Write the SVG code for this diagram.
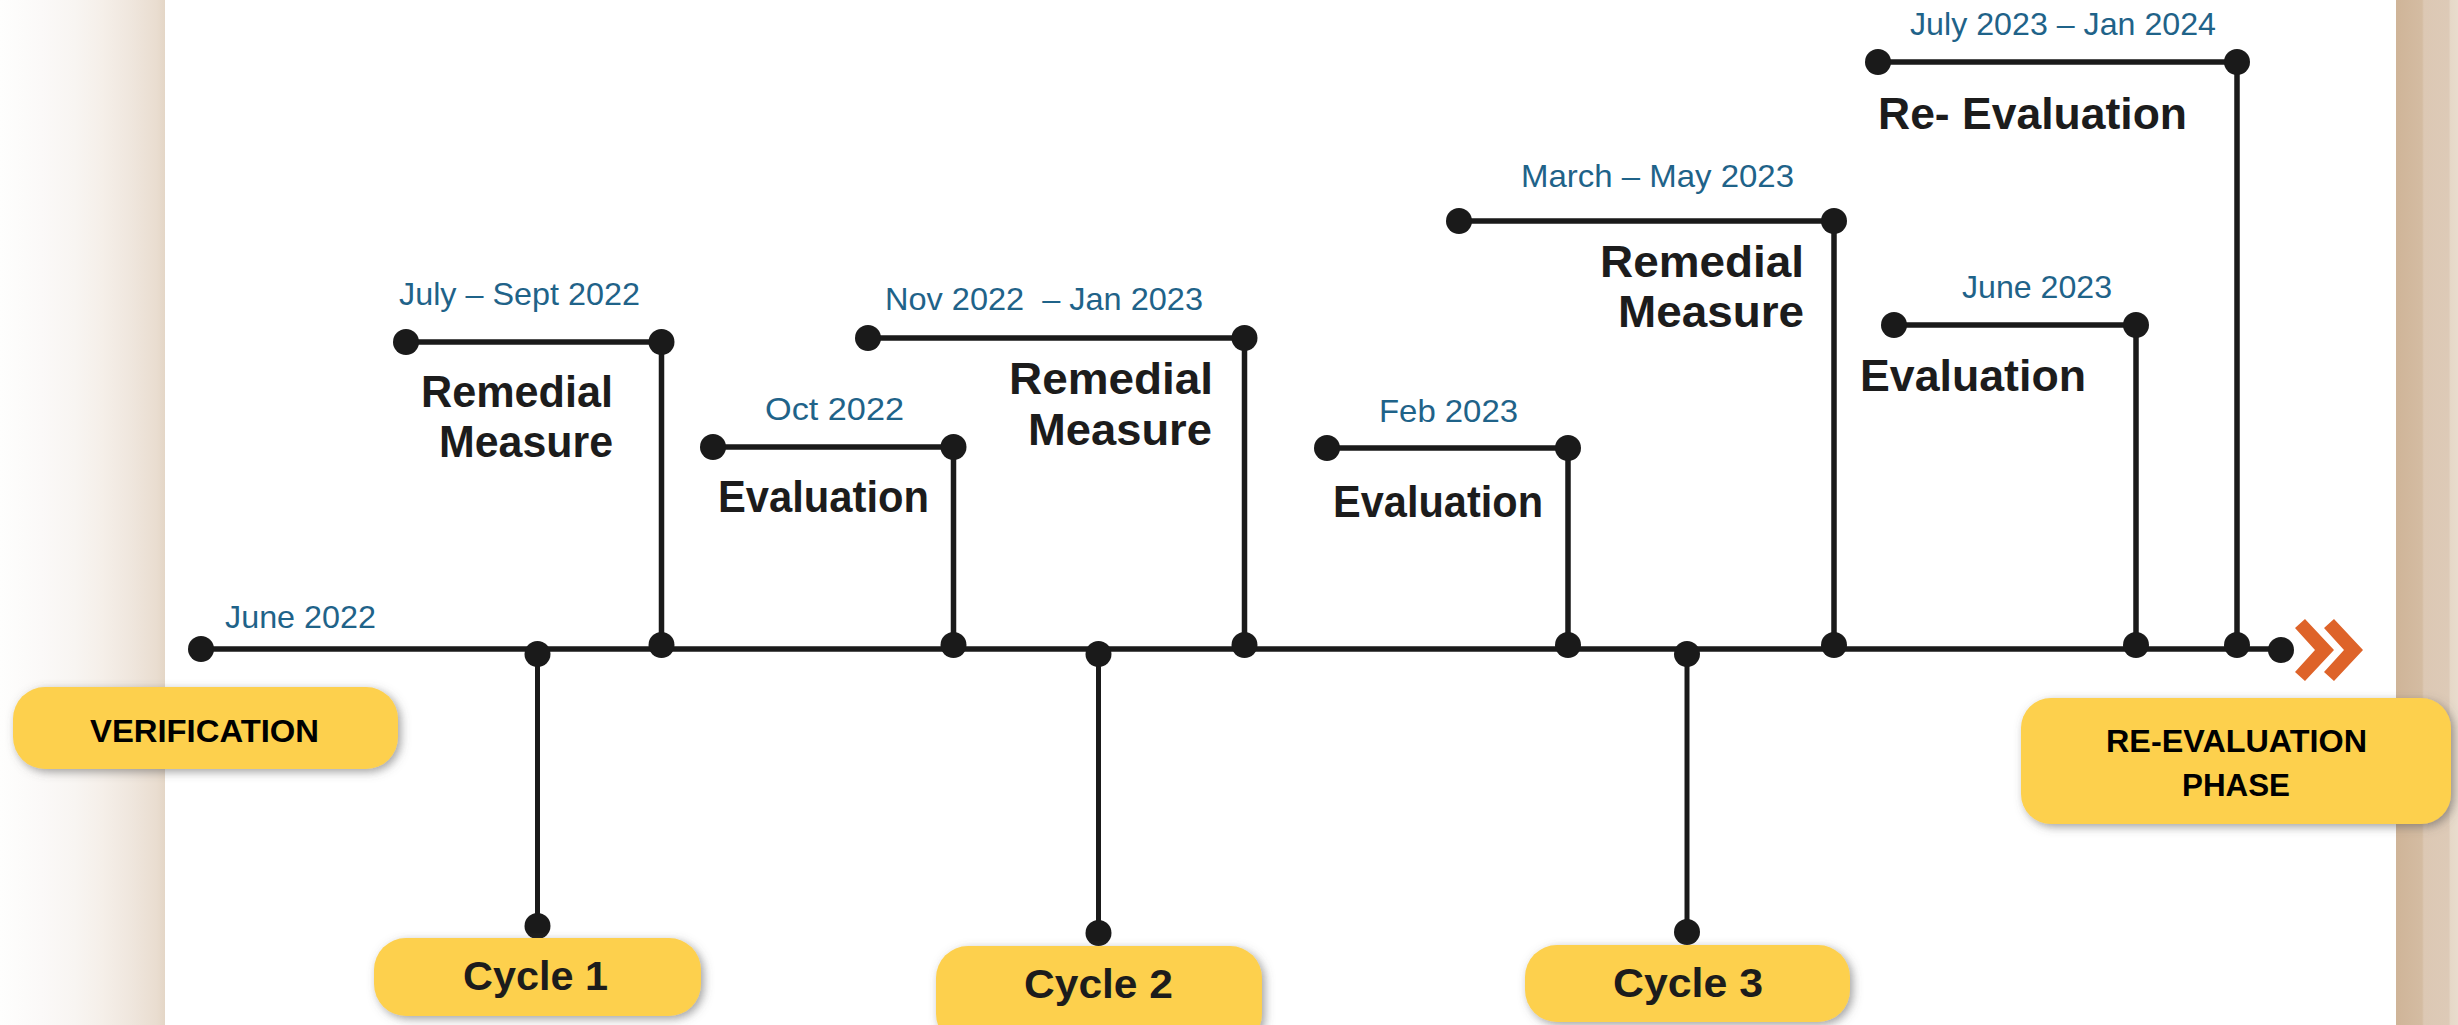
<svg xmlns="http://www.w3.org/2000/svg" width="2458" height="1025" viewBox="0 0 2458 1025">
  <defs>
    <linearGradient id="bandLeft" x1="0" y1="0" x2="1" y2="0">
      <stop offset="0" stop-color="#fefefd"/>
      <stop offset="0.25" stop-color="#fbf9f8"/>
      <stop offset="0.45" stop-color="#f8f5f2"/>
      <stop offset="0.62" stop-color="#f5efe9"/>
      <stop offset="0.8" stop-color="#efe6dd"/>
      <stop offset="0.95" stop-color="#e9ddd0"/>
      <stop offset="1" stop-color="#e4d6c6"/>
    </linearGradient>
    <linearGradient id="bandRight" x1="0" y1="0" x2="1" y2="0">
      <stop offset="0" stop-color="#cfb498"/>
      <stop offset="0.42" stop-color="#d4bca2"/>
      <stop offset="0.45" stop-color="#dcc8b4"/>
      <stop offset="0.85" stop-color="#ddcab7"/>
      <stop offset="0.88" stop-color="#e6d8c8"/>
      <stop offset="1" stop-color="#e8dccd"/>
    </linearGradient>
    <filter id="shadow" x="-10%" y="-30%" width="120%" height="160%">
      <feDropShadow dx="3" dy="3" stdDeviation="5" flood-color="#555" flood-opacity="0.55"/>
    </filter>
  </defs>
  <style>
    .line { stroke: #1a1a1a; stroke-width: 5.5; fill: none; }
    .stem { stroke: #1a1a1a; stroke-width: 5; fill: none; }
    .dot { fill: #1a1a1a; }
    .pill { fill: #fdd04d; filter: url(#shadow); }
    .date { font-family: "Liberation Sans", Arial, sans-serif; font-size: 32px; fill: #1f6389; }
    .label { font-family: "Liberation Sans", Arial, sans-serif; font-size: 44px; font-weight: bold; fill: #1c1c1c; }
    .caps { font-family: "Liberation Sans", Arial, sans-serif; font-size: 32px; font-weight: bold; fill: #000; }
    .cycle { font-family: "Liberation Sans", Arial, sans-serif; font-size: 41px; font-weight: bold; fill: #1c1c1c; }
    .chev { fill: #de6329; }
  </style>

  <!-- background -->
  <rect x="0" y="0" width="2458" height="1025" fill="#ffffff"/>
  <rect x="0" y="0" width="165" height="1025" fill="url(#bandLeft)"/>
  <rect x="2396" y="0" width="62" height="1025" fill="url(#bandRight)"/>

  <!-- connectors: main timeline, stems and brackets -->
  <g id="connectors">
    <line class="line" x1="201" y1="649" x2="2281" y2="649"/>

    <!-- cycle stems -->
    <line class="stem" x1="537.5" y1="654" x2="537.5" y2="926"/>
    <line class="stem" x1="1098.5" y1="654" x2="1098.5" y2="933"/>
    <line class="stem" x1="1687" y1="654" x2="1687" y2="932"/>

    <!-- brackets -->
    <polyline class="line" points="406,342 661.5,342 661.5,645"/>
    <polyline class="line" points="713,447 953.5,447 953.5,645"/>
    <polyline class="line" points="868,338 1244.5,338 1244.5,645"/>
    <polyline class="line" points="1327,448 1568,448 1568,645"/>
    <polyline class="line" points="1459,221 1834,221 1834,645"/>
    <polyline class="line" points="1894,325 2136,325 2136,645"/>
    <polyline class="line" points="1878,62 2237,62 2237,645"/>

    <!-- dots on the timeline -->
    <circle class="dot" cx="201" cy="649" r="13"/>
    <circle class="dot" cx="537.5" cy="654" r="13"/>
    <circle class="dot" cx="661.5" cy="645" r="13"/>
    <circle class="dot" cx="953.5" cy="645" r="13"/>
    <circle class="dot" cx="1098.5" cy="654" r="13"/>
    <circle class="dot" cx="1244.5" cy="645" r="13"/>
    <circle class="dot" cx="1568" cy="645" r="13"/>
    <circle class="dot" cx="1687" cy="654" r="13"/>
    <circle class="dot" cx="1834" cy="645" r="13"/>
    <circle class="dot" cx="2136" cy="645" r="13"/>
    <circle class="dot" cx="2237" cy="645" r="13"/>
    <circle class="dot" cx="2281" cy="650" r="13"/>

    <!-- cycle stem ends -->
    <circle class="dot" cx="537.5" cy="926" r="13"/>
    <circle class="dot" cx="1098.5" cy="933" r="13"/>
    <circle class="dot" cx="1687" cy="932" r="13"/>

    <!-- bracket end dots -->
    <circle class="dot" cx="406" cy="342" r="13"/>
    <circle class="dot" cx="661.5" cy="342" r="13"/>
    <circle class="dot" cx="713" cy="447" r="13"/>
    <circle class="dot" cx="953.5" cy="447" r="13"/>
    <circle class="dot" cx="868" cy="338" r="13"/>
    <circle class="dot" cx="1244.5" cy="338" r="13"/>
    <circle class="dot" cx="1327" cy="448" r="13"/>
    <circle class="dot" cx="1568" cy="448" r="13"/>
    <circle class="dot" cx="1459" cy="221" r="13"/>
    <circle class="dot" cx="1834" cy="221" r="13"/>
    <circle class="dot" cx="1894" cy="325" r="13"/>
    <circle class="dot" cx="2136" cy="325" r="13"/>
    <circle class="dot" cx="1878" cy="62" r="13"/>
    <circle class="dot" cx="2237" cy="62" r="13"/>

    <!-- direction chevrons -->
    <polygon class="chev" points="2295,628 2305,619 2334,650 2305,681 2295,672 2315,650"/>
    <polygon class="chev" points="2324,628 2334,619 2363,650 2334,681 2324,672 2344,650"/>
  </g>

  <!-- phase and cycle pills -->
  <g id="verification">
    <rect class="pill" x="13" y="687" width="385" height="82" rx="32"/>
    <text class="caps" x="90" y="742" textLength="229" lengthAdjust="spacingAndGlyphs">VERIFICATION</text>
  </g>
  <g id="re-evaluation-phase">
    <rect class="pill" x="2021" y="698" width="430" height="126" rx="30"/>
    <text class="caps" x="2106" y="751.5" textLength="261" lengthAdjust="spacingAndGlyphs">RE-EVALUATION</text>
    <text class="caps" x="2182" y="796" textLength="108" lengthAdjust="spacingAndGlyphs">PHASE</text>
  </g>
  <g id="cycle-1">
    <rect class="pill" x="374" y="938" width="327" height="78" rx="32"/>
    <text class="cycle" x="463" y="990" textLength="145" lengthAdjust="spacingAndGlyphs">Cycle 1</text>
  </g>
  <g id="cycle-2">
    <rect class="pill" x="936" y="946" width="326" height="100" rx="32"/>
    <text class="cycle" x="1024" y="998" textLength="149" lengthAdjust="spacingAndGlyphs">Cycle 2</text>
  </g>
  <g id="cycle-3">
    <rect class="pill" x="1525" y="945" width="325" height="77" rx="32"/>
    <text class="cycle" x="1613" y="997" textLength="150" lengthAdjust="spacingAndGlyphs">Cycle 3</text>
  </g>

  <!-- milestones -->
  <g id="june-2022">
    <text class="date" x="225" y="628" textLength="151" lengthAdjust="spacingAndGlyphs">June 2022</text>
  </g>
  <g id="remedial-1">
    <text class="date" x="399" y="305" textLength="241" lengthAdjust="spacingAndGlyphs">July – Sept 2022</text>
    <text class="label" x="421" y="406.5" textLength="192" lengthAdjust="spacingAndGlyphs">Remedial</text>
    <text class="label" x="439" y="457" textLength="174" lengthAdjust="spacingAndGlyphs">Measure</text>
  </g>
  <g id="evaluation-1">
    <text class="date" x="765" y="420" textLength="139" lengthAdjust="spacingAndGlyphs">Oct 2022</text>
    <text class="label" x="718" y="511.5" textLength="211" lengthAdjust="spacingAndGlyphs">Evaluation</text>
  </g>
  <g id="remedial-2">
    <text class="date" x="885" y="310" textLength="318" lengthAdjust="spacingAndGlyphs" xml:space="preserve">Nov 2022  – Jan 2023</text>
    <text class="label" x="1009" y="394" textLength="204" lengthAdjust="spacingAndGlyphs">Remedial</text>
    <text class="label" x="1028" y="445" textLength="184" lengthAdjust="spacingAndGlyphs">Measure</text>
  </g>
  <g id="evaluation-2">
    <text class="date" x="1379" y="421.5" textLength="139" lengthAdjust="spacingAndGlyphs">Feb 2023</text>
    <text class="label" x="1333" y="516.5" textLength="210" lengthAdjust="spacingAndGlyphs">Evaluation</text>
  </g>
  <g id="remedial-3">
    <text class="date" x="1521" y="186.5" textLength="273" lengthAdjust="spacingAndGlyphs">March – May 2023</text>
    <text class="label" x="1600" y="276.5" textLength="204" lengthAdjust="spacingAndGlyphs">Remedial</text>
    <text class="label" x="1618" y="326.5" textLength="186" lengthAdjust="spacingAndGlyphs">Measure</text>
  </g>
  <g id="evaluation-3">
    <text class="date" x="1962" y="297.5" textLength="150" lengthAdjust="spacingAndGlyphs">June 2023</text>
    <text class="label" x="1860" y="390.5" textLength="226" lengthAdjust="spacingAndGlyphs">Evaluation</text>
  </g>
  <g id="re-evaluation">
    <text class="date" x="1910" y="35" textLength="306" lengthAdjust="spacingAndGlyphs">July 2023 – Jan 2024</text>
    <text class="label" x="1878" y="128.5" textLength="309" lengthAdjust="spacingAndGlyphs">Re- Evaluation</text>
  </g>
</svg>
